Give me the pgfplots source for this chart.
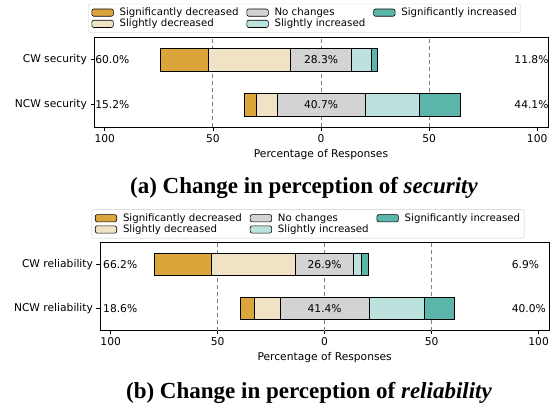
\documentclass[border=0pt]{standalone}
\usepackage{fontspec}
\setmainfont{DejaVu Sans}
\newfontfamily\capfont{Liberation Serif}
\usepackage{pgfplots}
\pgfplotsset{compat=1.18}

\definecolor{sigdec}{RGB}{218,165,58}
\definecolor{slightdec}{RGB}{240,226,196}
\definecolor{nochange}{RGB}{211,211,211}
\definecolor{slightinc}{RGB}{188,226,222}
\definecolor{siginc}{RGB}{91,181,171}

\newcommand{\fs}{\fontsize{10.7}{12.5}\selectfont}
\newcommand{\fl}{\fontsize{10.2}{12}\selectfont}
\tikzset{lab/.style={inner sep=0pt, font=\fs}}

% All bars are drawn with the zero point of the percentage scale at x = 110
% (so that stacking never involves negative values); tick labels show the
% distance from that zero point.
\pgfplotsset{
  myleg/.style={legend image code/.code={\draw[fill=#1, draw=black, line width=0.6pt] (0pt,-3.6pt) rectangle (21.5pt,3.6pt);}},
  seg/.style={fill=#1, draw=black, line width=0.8pt},
  divbar/.style={
    scale only axis,
    xbar stacked,
    xmin=5, xmax=215,
    ymin=-0.5, ymax=1.5,
    ytick={0,1},
    xtick={10,60,110,160,210},
    xticklabels={100,50,0,50,100},
    tick align=outside,
    tick pos=left,
    major tick length=3.5pt,
    tick style={black, line width=0.8pt},
    axis line style={line width=0.8pt},
    extra x ticks={60,110,160},
    extra x tick labels={},
    extra x tick style={xmajorgrids=true, major tick length=0pt},
    major grid style={gray, dash pattern=on 4pt off 3pt, line width=1pt},
    /pgf/number format/assume math mode=true,
    ticklabel style={font=\fs},
    label style={font=\fs},
    xlabel={Percentage of Responses},
    legend columns=3,
    legend cell align=left,
    legend style={draw=black!20, rounded corners=2pt, font=\fl,
      inner sep=3pt, row sep=0pt, nodes={inner sep=1pt},
      /tikz/every even column/.append style={column sep=7pt},
      /tikz/every odd column/.append style={column sep=5pt}},
  },
}

\begin{document}
\begin{tikzpicture}
% ---------------- (a) security ----------------
\begin{axis}[divbar, at={(94pt,-127.3pt)}, anchor=south west,
  width=454pt, height=90pt, bar width=23pt,
  yticklabels={NCW security, CW security},
  legend style={at={(0.464,1)}, anchor=south, yshift=4.6pt},
  xlabel style={at={(axis description cs:0.5,0)}, anchor=center, yshift=-27.7pt}]
\addlegendimage{myleg=sigdec}\addlegendentry{Significantly decreased}
\addlegendimage{myleg=nochange}\addlegendentry{No changes}
\addlegendimage{myleg=siginc}\addlegendentry{Significantly increased}
\addlegendimage{myleg=slightdec}\addlegendentry{Slightly decreased}
\addlegendimage{myleg=slightinc}\addlegendentry{Slightly increased}
\addplot[draw=none, fill=none] coordinates {(35.85,1) (74.45,0)};
\addplot[seg=sigdec] coordinates {(21.9,1) (5.6,0)};
\addplot[seg=slightdec] coordinates {(38.1,1) (9.6,0)};
\addplot[seg=nochange] coordinates {(28.3,1) (40.7,0)};
\addplot[seg=slightinc] coordinates {(9.0,1) (25.0,0)};
\addplot[seg=siginc] coordinates {(2.8,1) (19.1,0)};
\coordinate (aL1) at (axis cs:5.5,1);
\coordinate (aL0) at (axis cs:5.5,0);
\coordinate (aC1) at (axis cs:110,1);
\coordinate (aC0) at (axis cs:110,0);
\coordinate (aR1) at (axis cs:199.4,1);
\coordinate (aR0) at (axis cs:199.4,0);
\end{axis}
\node[lab, anchor=west] at (aL1) {60.0\%};
\node[lab, anchor=west] at (aL0) {15.2\%};
\node[lab] at (aC1) {28.3\%};
\node[lab] at (aC0) {40.7\%};
\node[lab, anchor=west] at (aR1) {11.8\%};
\node[lab, anchor=west] at (aR0) {44.1\%};
\node[font=\capfont\bfseries\fontsize{23}{26}\selectfont] at (304pt,-188pt) {(a) Change in perception of \textit{security}};
% ---------------- (b) reliability ----------------
\begin{axis}[divbar, at={(100pt,-330.7pt)}, anchor=south west,
  width=449.3pt, height=88pt, bar width=22pt,
  yticklabels={NCW reliability, CW reliability},
  legend style={at={(0.463,1)}, anchor=south, yshift=4.4pt},
  xlabel style={at={(axis description cs:0.5,0)}, anchor=center, yshift=-26.6pt}]
\addlegendimage{myleg=sigdec}\addlegendentry{Significantly decreased}
\addlegendimage{myleg=nochange}\addlegendentry{No changes}
\addlegendimage{myleg=siginc}\addlegendentry{Significantly increased}
\addlegendimage{myleg=slightdec}\addlegendentry{Slightly decreased}
\addlegendimage{myleg=slightinc}\addlegendentry{Slightly increased}
\addplot[draw=none, fill=none] coordinates {(30.35,1) (70.7,0)};
\addplot[seg=sigdec] coordinates {(26.5,1) (6.6,0)};
\addplot[seg=slightdec] coordinates {(39.7,1) (12.0,0)};
\addplot[seg=nochange] coordinates {(26.9,1) (41.4,0)};
\addplot[seg=slightinc] coordinates {(3.8,1) (25.9,0)};
\addplot[seg=siginc] coordinates {(3.1,1) (14.1,0)};
\coordinate (bL1) at (axis cs:6.4,1);
\coordinate (bL0) at (axis cs:6.4,0);
\coordinate (bC1) at (axis cs:110,1);
\coordinate (bC0) at (axis cs:110,0);
\coordinate (bR1) at (axis cs:197.4,1);
\coordinate (bR0) at (axis cs:197.4,0);
\end{axis}
\node[lab, anchor=west] at (bL1) {66.2\%};
\node[lab, anchor=west] at (bL0) {18.6\%};
\node[lab] at (bC1) {26.9\%};
\node[lab] at (bC0) {41.4\%};
\node[lab, anchor=west] at (bR1) {6.9\%};
\node[lab, anchor=west] at (bR0) {40.0\%};
\node[font=\capfont\bfseries\fontsize{23}{26}\selectfont] at (309pt,-393pt) {(b) Change in perception of \textit{reliability}};
\pgfresetboundingbox
\path[use as bounding box] (0pt,0pt) rectangle (551pt,-406pt);
\end{tikzpicture}
\end{document}
